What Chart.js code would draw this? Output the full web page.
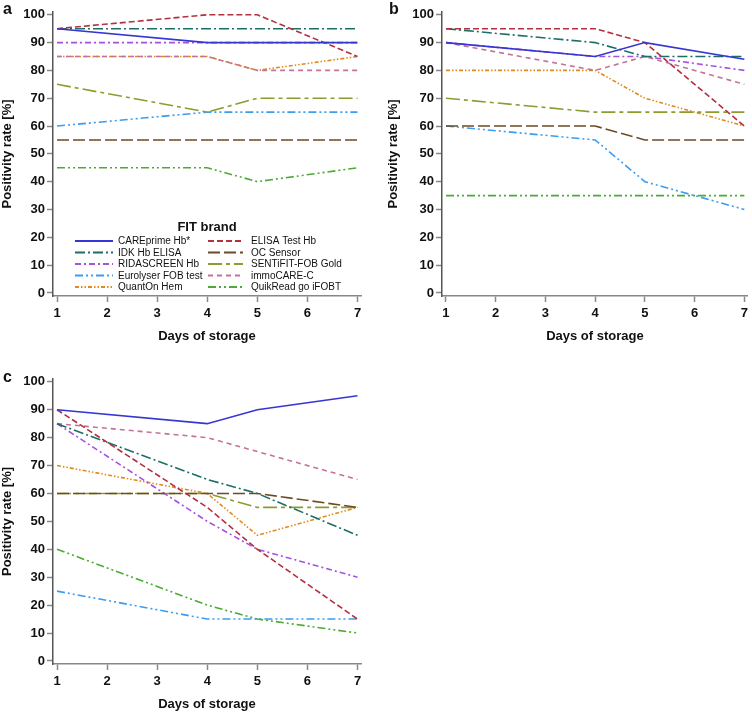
<!DOCTYPE html>
<html>
<head>
<meta charset="utf-8">
<script src="https://cdn.jsdelivr.net/npm/chart.js@4.4.0/dist/chart.umd.min.js"></script>
<style>
  html, body { margin: 0; padding: 0; background: #fff; overflow: hidden; }
  #wrap { position: relative; width: 752px; height: 713px; font-family: "Liberation Sans", Arial, sans-serif; }
  canvas { position: absolute; }
  .tag { position: absolute; font-weight: bold; font-size: 16px; line-height: 16px; color: #111; }
</style>
</head>
<body>
<div id="wrap">
  <canvas id="chartA" width="376" height="360" style="left:0;top:0"></canvas>
  <canvas id="chartB" width="366" height="360" style="left:386px;top:0"></canvas>
  <canvas id="chartC" width="376" height="346" style="left:0;top:367px"></canvas>
  <div class="tag" style="left:3px;top:1px">a</div>
  <div class="tag" style="left:389px;top:1px">b</div>
  <div class="tag" style="left:3px;top:369px">c</div>
</div>
<script>
// days where positivity was measured
const days = [1, 4, 5, 7];
const xTicks = [1, 2, 3, 4, 5, 6, 7];
const yTicks = [0, 10, 20, 30, 40, 50, 60, 70, 80, 90, 100];

const brands = ['CAREprime Hb*', 'ELISA Test Hb', 'IDK Hb ELISA', 'OC Sensor', 'RIDASCREEN Hb',
                'SENTiFIT-FOB Gold', 'Eurolyser FOB test', 'immoCARE-C', 'QuantOn Hem', 'QuikRead go iFOBT'];

// positivity rate [%] per brand (same order as brands), values at days 1, 4, 5, 7
const rateA = [
    [95, 90, 90, 90],
    [95, 100, 100, 85],
    [95, 95, 95, 95],
    [55, 55, 55, 55],
    [90, 90, 90, 90],
    [75, 65, 70, 70],
    [60, 65, 65, 65],
    [85, 85, 80, 80],
    [85, 85, 80, 85],
    [45, 45, 40, 45],
];
const rateB = [
    [90, 85, 90, 84],
    [95, 95, 90, 60],
    [95, 90, 85, 85],
    [60, 60, 55, 55],
    [90, 85, 85, 80],
    [70, 65, 65, 65],
    [60, 55, 40, 30],
    [90, 80, 85, 75],
    [80, 80, 70, 60],
    [35, 35, 35, 35],
];
const rateC = [
    [90, 85, 90, 95],
    [90, 55, 40, 15],
    [85, 65, 60, 45],
    [60, 60, 60, 55],
    [85, 50, 40, 30],
    [60, 60, 55, 55],
    [25, 15, 15, 15],
    [85, 80, 75, 65],
    [70, 60, 45, 55],
    [40, 20, 15, 10],
];

// line styles per brand
const colors = ['#3636d2', '#b3303f', '#1d6f66', '#6e4b25', '#a651e0',
                '#8c9c2f', '#3d9cf0', '#c3729a', '#e08b1e', '#4cab34'];
const dashes = [[], [6, 3], [10, 3, 2, 3], [12, 4], [6, 3, 2, 3],
                [14, 4, 4, 4], [8, 3, 2, 3, 2, 3], [5, 4], [4, 2, 1.5, 2, 1.5, 2], [8, 3, 2, 3, 2, 3]];

const FONT = '"Liberation Sans", Arial, sans-serif';
Chart.defaults.font.family = FONT;
Chart.defaults.color = '#111';

// legend drawn inside panel a
const legendInA = {
    id: 'legendInA',
    afterDraw(chart) {
        const ctx = chart.ctx;
        ctx.save();
        ctx.fillStyle = '#111';
        ctx.font = 'bold 13px ' + FONT;
        ctx.textAlign = 'center';
        ctx.textBaseline = 'middle';
        ctx.fillText('FIT brand', 207, 227);
        ctx.font = '10px ' + FONT;
        ctx.textAlign = 'left';
        chart.data.datasets.forEach((ds, i) => {
            const col = i % 2;
            const y = 241 + Math.floor(i / 2) * 11.5;
            const x0 = col ? 208 : 75;
            const x1 = col ? 243 : 113;
            ctx.strokeStyle = ds.borderColor;
            ctx.lineWidth = 2;
            ctx.setLineDash(ds.borderDash);
            ctx.beginPath();
            ctx.moveTo(x0, y);
            ctx.lineTo(x1, y);
            ctx.stroke();
            ctx.setLineDash([]);
            ctx.fillText(ds.label, col ? 251 : 118, y + 0.5);
        });
        ctx.restore();
    }
};

function makeChart(id, rates, yWidth, pad, plugins) {
    const datasets = brands.map((b, i) => ({
        label: b,
        data: days.map((d, j) => ({ x: d, y: rates[i][j] })),
        borderColor: colors[i],
        borderDash: dashes[i],
        borderWidth: 1.6,
        pointRadius: 0,
        tension: 0,
        fill: false,
    }));
    return new Chart(document.getElementById(id), {
        type: 'line',
        data: { datasets: datasets },
        plugins: plugins,
        options: {
            responsive: false,
            animation: false,
            layout: { padding: pad },
            plugins: { legend: { display: false }, tooltip: { enabled: false } },
            scales: {
                x: {
                    type: 'linear',
                    min: 0.92,
                    max: 7.07,
                    afterBuildTicks: s => { s.ticks = xTicks.map(v => ({ value: v })); },
                    afterFit: s => { s.height = 48; },
                    grid: { drawOnChartArea: false, tickLength: 6, tickColor: '#888', tickWidth: 1.5 },
                    border: { color: '#888', width: 1.5 },
                    ticks: { font: { size: 13, weight: 'bold' }, padding: 4, maxRotation: 0, autoSkip: false },
                    title: { display: true, text: 'Days of storage', font: { size: 13, weight: 'bold' }, padding: 0 },
                },
                y: {
                    min: -1.1,
                    max: 101,
                    afterBuildTicks: s => { s.ticks = yTicks.map(v => ({ value: v })); },
                    afterFit: s => { s.width = yWidth; },
                    grid: { drawOnChartArea: false, tickLength: 6, tickColor: '#888', tickWidth: 1.5 },
                    border: { color: '#555', width: 1.5 },
                    ticks: { font: { size: 13, weight: 'bold' }, padding: 2 },
                    title: { display: true, text: 'Positivity rate [%]', font: { size: 13, weight: 'bold' }, padding: 0 },
                },
            },
        },
    });
}

makeChart('chartA', rateA, 53, { top: 12, right: 15, bottom: 16, left: 0 }, [legendInA]);
makeChart('chartB', rateB, 56, { top: 12, right: 2, bottom: 16, left: 0 }, []);
makeChart('chartC', rateC, 53, { top: 12, right: 15, bottom: 1, left: 0 }, []);
</script>
</body>
</html>
